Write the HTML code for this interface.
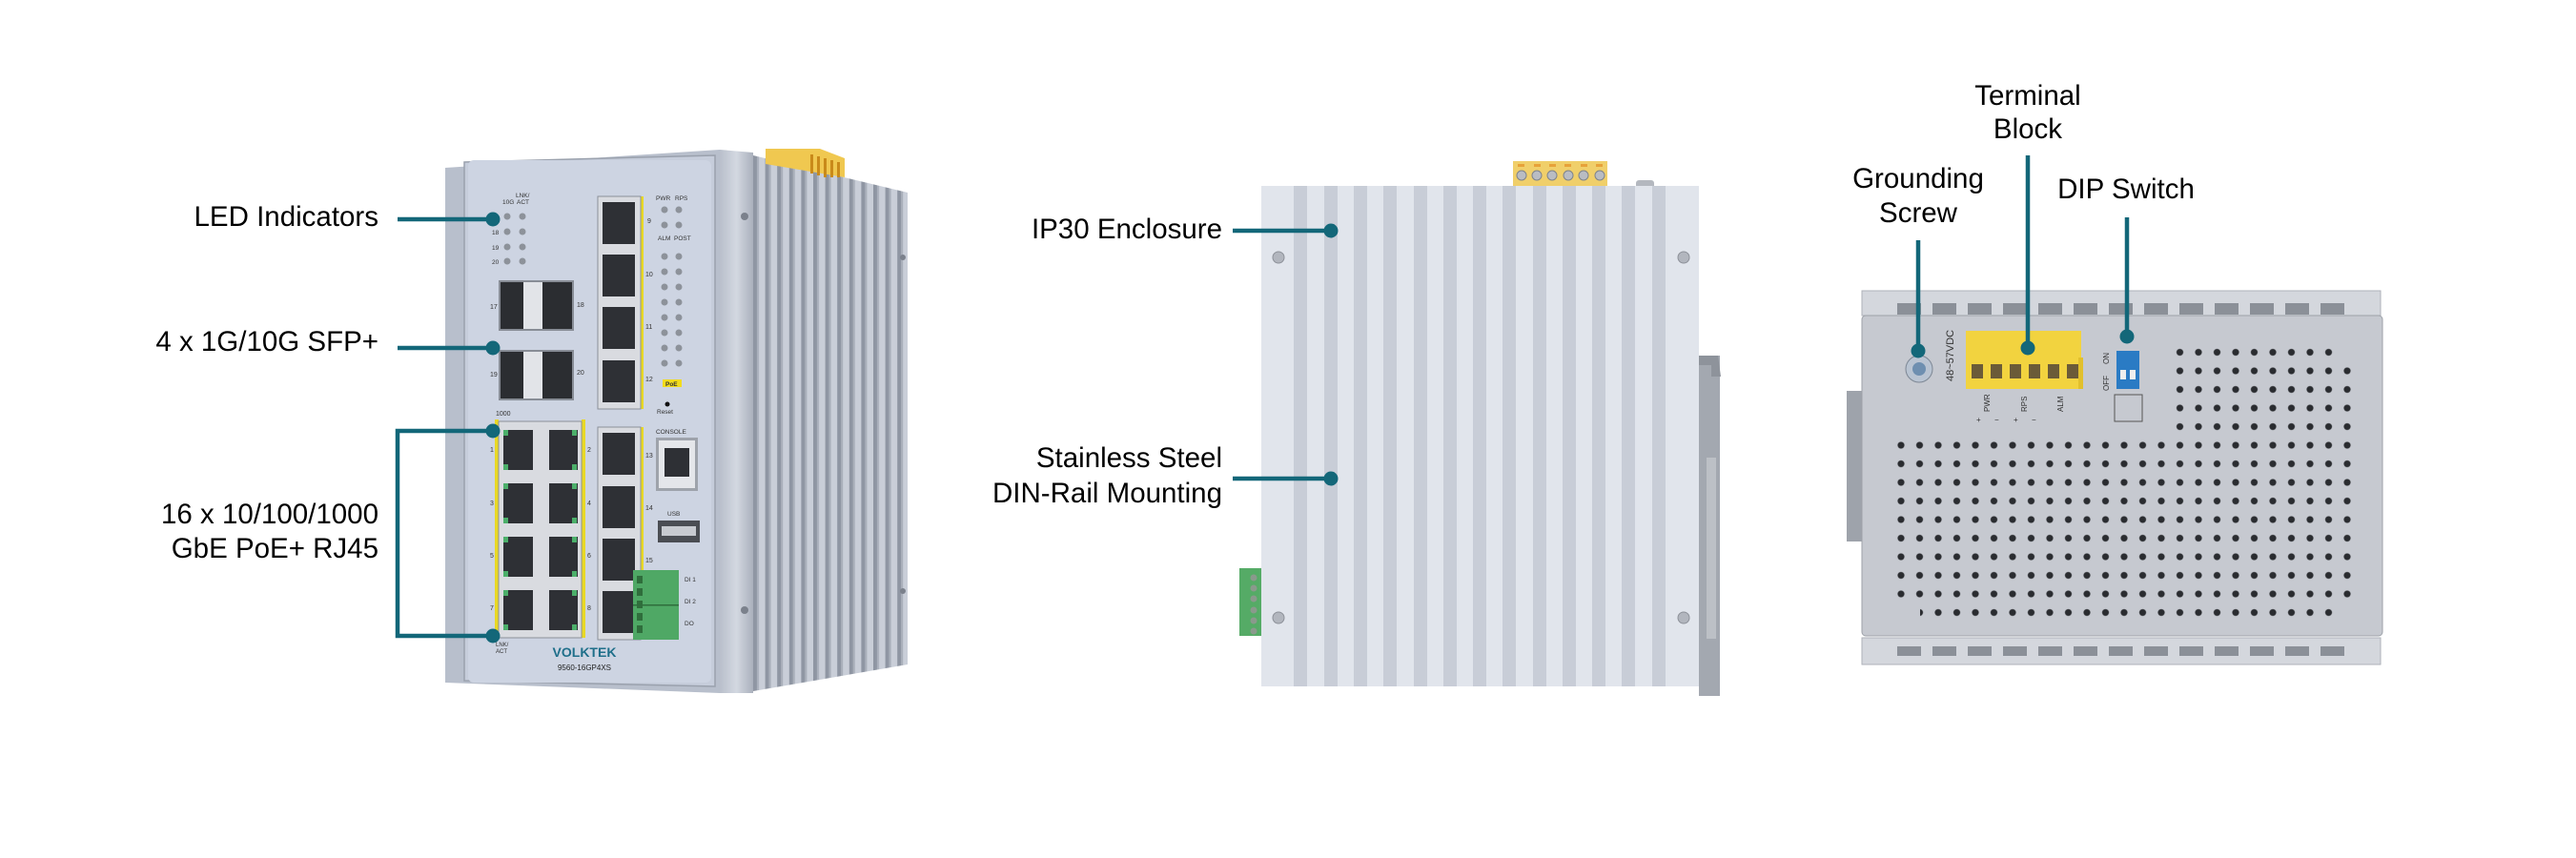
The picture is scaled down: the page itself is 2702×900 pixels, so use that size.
<!DOCTYPE html>
<html><head><meta charset="utf-8"><style>
html,body{margin:0;padding:0;background:#fff;}
svg{display:block;}
text{font-family:"Liberation Sans",Arial,sans-serif;}
</style></head><body>
<svg width="2702" height="900" viewBox="0 0 2702 900" xmlns="http://www.w3.org/2000/svg">
<defs>
<linearGradient id="rail" x1="0" x2="1"><stop offset="0" stop-color="#b9bfcb"/><stop offset="0.5" stop-color="#d3d8e1"/><stop offset="1" stop-color="#aab0bc"/></linearGradient>
<pattern id="fins" x="790" y="0" width="12.6" height="900" patternUnits="userSpaceOnUse">
<rect width="12.6" height="900" fill="#c9ced8"/><rect x="0" width="4" height="900" fill="#8f96a3"/><rect x="4" width="2" height="900" fill="#a9afba"/>
</pattern>
<pattern id="holes" x="1984.2" y="457.2" width="19.5" height="19.5" patternUnits="userSpaceOnUse">
<circle cx="9.8" cy="9.8" r="3.6" fill="#2a2c30"/>
</pattern>
</defs>

<!-- ================= LEFT DEVICE ================= -->
<polygon points="790,163 952,202 952,697 790,725" fill="url(#fins)"/>
<polygon points="803,156 860,156 886,166 886,186 803,172" fill="#f0c850"/>
<g fill="#c98a1a"><rect x="850" y="162" width="3" height="20"/><rect x="857" y="164" width="3" height="20"/><rect x="864" y="166" width="3" height="20"/><rect x="871" y="168" width="3" height="18"/><rect x="878" y="170" width="3" height="16"/></g>
<polygon points="755,157 790,160 790,727 755,727" fill="url(#rail)"/>
<polygon points="467,176 755,157 755,727 467,716" fill="#b8bfcc"/>
<polygon points="487,170 750,163 750,720 487,714" fill="#c6cddb" stroke="#9aa1ad" stroke-width="1.5"/>
<rect x="491" y="168" width="255" height="548" rx="6" fill="#cdd4e2"/>
<circle cx="781" cy="227" r="4" fill="#7b818c"/><circle cx="781" cy="640" r="4" fill="#7b818c"/>
<circle cx="947" cy="270" r="3" fill="#7b818c"/><circle cx="947" cy="620" r="3" fill="#7b818c"/>

<g font-size="6.5" fill="#333"><text x="527" y="214">10G</text><text x="541" y="207">LNK/</text><text x="542" y="214">ACT</text>
<text x="516" y="246">18</text><text x="516" y="262">19</text><text x="516" y="277">20</text></g>
<g fill="#8d929a"><circle cx="532" cy="227" r="3.5"/><circle cx="548" cy="227" r="3.5"/><circle cx="532" cy="243" r="3.5"/><circle cx="548" cy="243" r="3.5"/><circle cx="532" cy="259" r="3.5"/><circle cx="548" cy="259" r="3.5"/><circle cx="532" cy="274" r="3.5"/><circle cx="548" cy="274" r="3.5"/></g>

<g>
<rect x="523" y="294" width="79" height="53" fill="#888d96"/><rect x="525" y="296" width="24" height="49" fill="#2b2d31"/><rect x="549" y="296" width="20" height="49" fill="#e2e4e8"/><rect x="569" y="296" width="31" height="49" fill="#2b2d31"/>
<rect x="523" y="367" width="79" height="53" fill="#888d96"/><rect x="525" y="369" width="24" height="49" fill="#2b2d31"/><rect x="549" y="369" width="20" height="49" fill="#e2e4e8"/><rect x="569" y="369" width="31" height="49" fill="#2b2d31"/>
</g>
<g font-size="7" fill="#333"><text x="514" y="324">17</text><text x="605" y="322">18</text><text x="514" y="395">19</text><text x="605" y="393">20</text><text x="520" y="436">1000</text></g>

<rect x="519" y="440" width="4" height="229" fill="#e8d824"/><rect x="610" y="440" width="4" height="229" fill="#e8d824"/>
<rect x="523" y="442" width="87" height="227" fill="#d9dbe0" stroke="#8b9099"/>
<g fill="#2e3035">
<rect x="528" y="451" width="31" height="42"/><rect x="576" y="451" width="30" height="42"/>
<rect x="528" y="507" width="31" height="42"/><rect x="576" y="507" width="30" height="42"/>
<rect x="528" y="563" width="31" height="42"/><rect x="576" y="563" width="30" height="42"/>
<rect x="528" y="619" width="31" height="42"/><rect x="576" y="619" width="30" height="42"/>
</g>
<g fill="#4caf6a">
<rect x="528" y="451" width="5" height="6"/><rect x="600" y="451" width="5" height="6"/><rect x="528" y="487" width="5" height="6"/><rect x="600" y="487" width="5" height="6"/>
<rect x="528" y="507" width="5" height="6"/><rect x="600" y="507" width="5" height="6"/><rect x="528" y="543" width="5" height="6"/><rect x="600" y="543" width="5" height="6"/>
<rect x="528" y="563" width="5" height="6"/><rect x="600" y="563" width="5" height="6"/><rect x="528" y="599" width="5" height="6"/><rect x="600" y="599" width="5" height="6"/>
<rect x="528" y="619" width="5" height="6"/><rect x="600" y="619" width="5" height="6"/><rect x="528" y="655" width="5" height="6"/><rect x="600" y="655" width="5" height="6"/>
</g>
<g font-size="7" fill="#333"><text x="514" y="474">1</text><text x="616" y="474">2</text><text x="514" y="530">3</text><text x="616" y="530">4</text><text x="514" y="585">5</text><text x="616" y="585">6</text><text x="514" y="640">7</text><text x="616" y="640">8</text>
<text x="520" y="678" font-size="6">LNK/</text><text x="520" y="685" font-size="6">ACT</text></g>

<rect x="672" y="206" width="3" height="223" fill="#e8d824"/><rect x="672" y="448" width="3" height="223" fill="#e8d824"/>
<rect x="627" y="206" width="45" height="223" fill="#d9dbe0" stroke="#8b9099"/>
<rect x="627" y="448" width="45" height="223" fill="#d9dbe0" stroke="#8b9099"/>
<g fill="#2e3035">
<rect x="632" y="212" width="34" height="44"/><rect x="632" y="267" width="34" height="44"/><rect x="632" y="322" width="34" height="44"/><rect x="632" y="378" width="34" height="44"/>
<rect x="632" y="454" width="34" height="44"/><rect x="632" y="510" width="34" height="44"/><rect x="632" y="565" width="34" height="44"/><rect x="632" y="620" width="34" height="44"/>
</g>
<g font-size="7" fill="#333"><text x="679" y="234">9</text><text x="677" y="290">10</text><text x="677" y="345">11</text><text x="677" y="400">12</text><text x="677" y="480">13</text><text x="677" y="535">14</text><text x="677" y="590">15</text></g>
<g font-size="6.5" fill="#333"><text x="688" y="210">PWR</text><text x="708" y="210">RPS</text><text x="690" y="252">ALM</text><text x="707" y="252">POST</text><text x="689" y="434">Reset</text><text x="688" y="455">CONSOLE</text><text x="700" y="541">USB</text></g>
<g fill="#8d929a">
<circle cx="697" cy="220" r="3.5"/><circle cx="712" cy="220" r="3.5"/><circle cx="697" cy="236" r="3.5"/><circle cx="712" cy="236" r="3.5"/>
<circle cx="697" cy="269" r="3.5"/><circle cx="712" cy="269" r="3.5"/><circle cx="697" cy="285" r="3.5"/><circle cx="712" cy="285" r="3.5"/>
<circle cx="697" cy="301" r="3.5"/><circle cx="712" cy="301" r="3.5"/><circle cx="697" cy="317" r="3.5"/><circle cx="712" cy="317" r="3.5"/>
<circle cx="697" cy="333" r="3.5"/><circle cx="712" cy="333" r="3.5"/><circle cx="697" cy="349" r="3.5"/><circle cx="712" cy="349" r="3.5"/>
<circle cx="697" cy="365" r="3.5"/><circle cx="712" cy="365" r="3.5"/><circle cx="697" cy="381" r="3.5"/><circle cx="712" cy="381" r="3.5"/>
</g>
<rect x="695" y="398" width="20" height="8" fill="#f2dc1c"/><text x="698" y="405" font-size="6.5" font-weight="bold" fill="#333">PoE</text>
<circle cx="700" cy="424" r="2.5" fill="#111"/>
<rect x="688" y="459" width="44" height="56" fill="#9ea3ab"/><rect x="691" y="462" width="38" height="50" fill="#e4e6ea"/><rect x="697" y="470" width="26" height="30" fill="#2e3035"/>
<rect x="690" y="546" width="44" height="23" fill="#4a4d53"/><rect x="694" y="552" width="36" height="10" fill="#c7cad0"/>
<rect x="664" y="598" width="48" height="73" fill="#4fa865"/>
<g fill="#2f6e3c"><rect x="668" y="604" width="6" height="8"/><rect x="668" y="617" width="6" height="8"/><rect x="668" y="630" width="6" height="8"/><rect x="668" y="643" width="6" height="8"/><rect x="668" y="656" width="6" height="8"/><rect x="664" y="634" width="48" height="1.5"/></g>
<g font-size="6.5" fill="#333"><text x="718" y="610">DI 1</text><text x="718" y="633">DI 2</text><text x="718" y="656">DO</text></g>
<text x="613" y="689" font-size="14" font-weight="bold" fill="#1f6f8a" text-anchor="middle">VOLKTEK</text>
<text x="613" y="703" font-size="8" fill="#222" text-anchor="middle">9560-16GP4XS</text>

<g font-size="29.5" fill="#000" text-anchor="end">
<text x="397" y="237">LED Indicators</text>
<text x="397" y="368">4 x 1G/10G SFP+</text>
<text x="397" y="549">16 x 10/100/1000</text>
<text x="397" y="585">GbE PoE+ RJ45</text>
</g>
<g stroke="#136779" stroke-width="4.5" fill="none">
<line x1="417" y1="230" x2="517" y2="230"/>
<line x1="417" y1="365" x2="517" y2="365"/>
<polyline points="517,452 417,452 417,667 517,667"/>
</g>
<g fill="#136779"><circle cx="517" cy="230" r="7.5"/><circle cx="517" cy="365" r="7.5"/><circle cx="517" cy="452" r="7.5"/><circle cx="517" cy="667" r="7.5"/></g>

<!-- ================= MIDDLE DEVICE ================= -->
<rect x="1782" y="373" width="22" height="357" fill="#a3a8b0"/>
<polygon points="1782,373 1802,373 1805,395 1795,395 1795,383 1782,383" fill="#8e939b"/>
<rect x="1790" y="480" width="10" height="190" fill="#bcc0c6"/>
<rect x="1300" y="596" width="25" height="71" fill="#55ab66"/>
<g fill="#8a9a8c"><circle cx="1315" cy="606" r="3.5"/><circle cx="1315" cy="617" r="3.5"/><circle cx="1315" cy="628" r="3.5"/><circle cx="1315" cy="640" r="3.5"/><circle cx="1315" cy="651" r="3.5"/><circle cx="1315" cy="662" r="3.5"/></g>
<rect x="1587" y="169" width="99" height="29" fill="#f0cf6a"/>
<g fill="#e7a23a"><rect x="1592" y="172" width="7" height="3"/><rect x="1609" y="172" width="7" height="3"/><rect x="1625" y="172" width="7" height="3"/><rect x="1641" y="172" width="7" height="3"/><rect x="1658" y="172" width="7" height="3"/><rect x="1674" y="172" width="7" height="3"/></g>
<g fill="#b9bcc3" stroke="#7e838b"><circle cx="1596" cy="184" r="5"/><circle cx="1612" cy="184" r="5"/><circle cx="1628" cy="184" r="5"/><circle cx="1645" cy="184" r="5"/><circle cx="1661" cy="184" r="5"/><circle cx="1678" cy="184" r="5"/></g>
<rect x="1716" y="189" width="19" height="9" rx="3" fill="#b4b8bf"/>
<rect x="1323" y="195" width="459" height="525" fill="#e1e5ec"/>
<g fill="#c8cdd7">
<rect x="1357" y="195" width="14" height="525"/><rect x="1389" y="195" width="14" height="525"/><rect x="1420" y="195" width="14" height="525"/><rect x="1451" y="195" width="14" height="525"/><rect x="1483" y="195" width="14" height="525"/><rect x="1514" y="195" width="14" height="525"/><rect x="1545" y="195" width="14" height="525"/><rect x="1576" y="195" width="14" height="525"/><rect x="1608" y="195" width="14" height="525"/><rect x="1639" y="195" width="14" height="525"/><rect x="1670" y="195" width="14" height="525"/><rect x="1701" y="195" width="14" height="525"/><rect x="1733" y="195" width="14" height="525"/>
</g>
<g fill="#b2b6be" stroke="#8d9199"><circle cx="1341" cy="270" r="6"/><circle cx="1766" cy="270" r="6"/><circle cx="1341" cy="648" r="6"/><circle cx="1766" cy="648" r="6"/></g>
<g font-size="29.5" fill="#000" text-anchor="end">
<text x="1282" y="250">IP30 Enclosure</text>
<text x="1282" y="490">Stainless Steel</text>
<text x="1282" y="527">DIN-Rail Mounting</text>
</g>
<g stroke="#136779" stroke-width="4.5"><line x1="1293" y1="242" x2="1396" y2="242"/><line x1="1293" y1="502" x2="1396" y2="502"/></g>
<g fill="#136779"><circle cx="1396" cy="242" r="7.5"/><circle cx="1396" cy="502" r="7.5"/></g>

<!-- ================= RIGHT DEVICE ================= -->
<rect x="1937" y="410" width="16" height="158" fill="#9ea3ab"/>
<rect x="1953" y="305" width="544" height="26" fill="#d4d7dd" stroke="#aeb2b9"/>
<g fill="#8b9098">
<rect x="1990" y="318" width="25" height="12"/><rect x="2027" y="318" width="25" height="12"/><rect x="2064" y="318" width="25" height="12"/><rect x="2101" y="318" width="25" height="12"/><rect x="2138" y="318" width="25" height="12"/><rect x="2175" y="318" width="25" height="12"/><rect x="2212" y="318" width="25" height="12"/><rect x="2249" y="318" width="25" height="12"/><rect x="2286" y="318" width="25" height="12"/><rect x="2323" y="318" width="25" height="12"/><rect x="2360" y="318" width="25" height="12"/><rect x="2397" y="318" width="25" height="12"/><rect x="2434" y="318" width="25" height="12"/>
</g>
<rect x="1953" y="331" width="546" height="336" rx="4" fill="#c6c9d0" stroke="#9da1a8"/>
<rect x="1984" y="457" width="488" height="198" fill="url(#holes)"/>
<rect x="1984" y="635" width="30" height="24" fill="#c6c9d0"/>
<rect x="2450" y="635" width="30" height="24" fill="#c6c9d0"/>
<rect x="2277" y="360" width="200" height="98" fill="url(#holes)"/>
<rect x="2450" y="360" width="30" height="20" fill="#c6c9d0"/>
<rect x="1953" y="669" width="544" height="28" fill="#d4d7dd" stroke="#aeb2b9"/>
<g fill="#8b9098">
<rect x="1990" y="678" width="25" height="10"/><rect x="2027" y="678" width="25" height="10"/><rect x="2064" y="678" width="25" height="10"/><rect x="2101" y="678" width="25" height="10"/><rect x="2138" y="678" width="25" height="10"/><rect x="2175" y="678" width="25" height="10"/><rect x="2212" y="678" width="25" height="10"/><rect x="2249" y="678" width="25" height="10"/><rect x="2286" y="678" width="25" height="10"/><rect x="2323" y="678" width="25" height="10"/><rect x="2360" y="678" width="25" height="10"/><rect x="2397" y="678" width="25" height="10"/><rect x="2434" y="678" width="25" height="10"/>
</g>
<circle cx="2013" cy="387" r="14" fill="#b9c4d2" stroke="#7d8794"/><circle cx="2013" cy="387" r="7" fill="#6e8fb0"/>
<text x="2049" y="400" font-size="11" fill="#333" transform="rotate(-90 2049 400)">48~57VDC</text>
<rect x="2062" y="347" width="121" height="61" fill="#f2d33f"/>
<rect x="2180" y="375" width="5" height="33" fill="#e2c02c"/>
<g fill="#6b5b38"><rect x="2068" y="382" width="12" height="15"/><rect x="2088" y="382" width="12" height="15"/><rect x="2108" y="382" width="12" height="15"/><rect x="2128" y="382" width="12" height="15"/><rect x="2148" y="382" width="12" height="15"/><rect x="2168" y="382" width="12" height="15"/></g>
<g font-size="8" fill="#333"><text x="2073" y="443">+</text><text x="2092" y="443">−</text><text x="2112" y="443">+</text><text x="2131" y="443">−</text>
<text x="2087" y="432" transform="rotate(-90 2087 432)">PWR</text><text x="2126" y="432" transform="rotate(-90 2126 432)">RPS</text><text x="2164" y="432" transform="rotate(-90 2164 432)">ALM</text>
<text x="2212" y="382" transform="rotate(-90 2212 382)">ON</text><text x="2212" y="410" transform="rotate(-90 2212 410)">OFF</text></g>
<rect x="2220" y="368" width="24" height="40" fill="#2a7bc4"/>
<rect x="2224" y="388" width="6" height="10" fill="#eee"/><rect x="2234" y="388" width="6" height="10" fill="#eee"/>
<rect x="2218" y="414" width="29" height="28" fill="none" stroke="#555"/>
<g font-size="29.5" fill="#000" text-anchor="middle">
<text x="2012" y="197">Grounding</text><text x="2012" y="233">Screw</text>
<text x="2127" y="110">Terminal</text><text x="2127" y="145">Block</text>
<text x="2230" y="208">DIP Switch</text>
</g>
<g stroke="#136779" stroke-width="4.5"><line x1="2012" y1="252" x2="2012" y2="368"/><line x1="2127" y1="163" x2="2127" y2="365"/><line x1="2231" y1="228" x2="2231" y2="353"/></g>
<g fill="#136779"><circle cx="2012" cy="368" r="7.5"/><circle cx="2127" cy="365" r="7.5"/><circle cx="2231" cy="353" r="7.5"/></g>
</svg>
</body></html>
